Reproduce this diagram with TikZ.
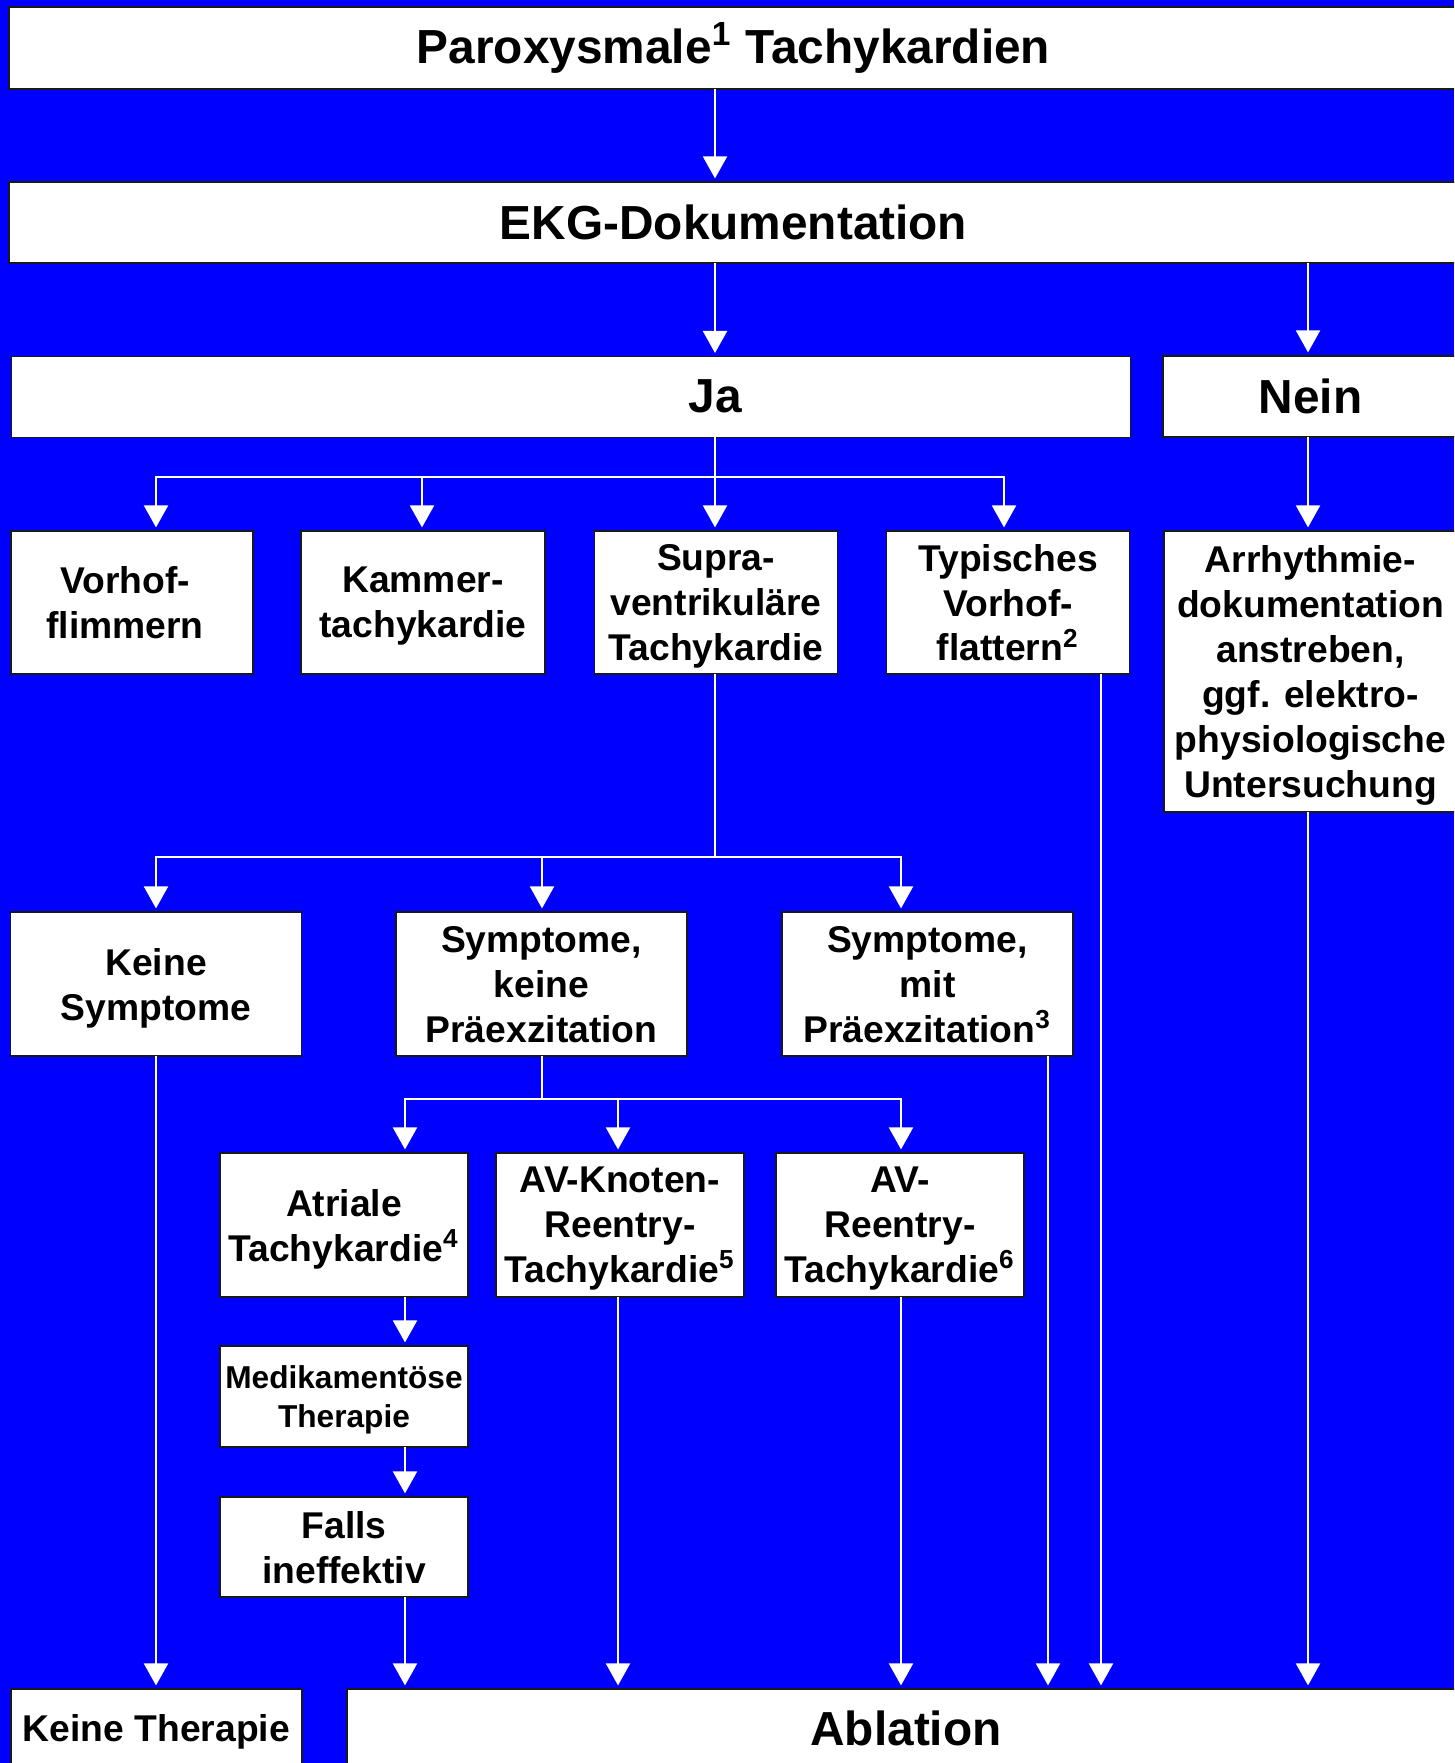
\documentclass[tikz,border=0pt]{standalone}
\usepackage{fontspec}
\setmainfont{Liberation Sans}
\usetikzlibrary{arrows.meta}
\definecolor{bgblue}{RGB}{0,0,255}
\tikzset{ bx/.style = { rectangle % box
        , draw = black!90
        , line width = 0.12mm
        , fill = white
        , align = center
        , inner sep = 0pt
        , text depth = 0pt
        , font = \bfseries\fontsize{10.6}{12.8}\selectfont
        }
        , hd/.style = { bx % wide heading box
        , text depth = {}
        , font = \bfseries\fontsize{13.6}{16}\selectfont
        }
        , sm/.style = { bx % small text
        , font = \bfseries\fontsize{9}{11.2}\selectfont
        }
        }

\begin{document}
\begin{tikzpicture}[x=0.1mm, y=-0.1mm,
        edge_style/.style={draw=white, line width=0.2mm, line cap=rect, -{Triangle[length=2.2mm,width=2.4mm]}, shorten >=0.3mm},
        line_style/.style={draw=white, line width=0.2mm, line cap=rect}]
        \useasboundingbox (0,0) rectangle (1454,1763);
        \clip (0,0) rectangle (1454,1763);
        \fill [bgblue] (0,0) rectangle (1454,1763);

        \node [hd, minimum width=144.9mm, minimum height=8.2mm] (title) at (733.5,48) {Paroxysmale\textsuperscript{1} Tachykardien};
        \node [hd, minimum width=144.9mm, minimum height=8.1mm] (ekg) at (733.5,222.5) {EKG-Dokumentation};
        \node [hd, minimum width=111.9mm, minimum height=8.1mm, anchor=north west] (ja) at (11,356) {};
        \node [font=\bfseries\fontsize{13.6}{16}\selectfont] (jatxt) at (715,396.5) {Ja};
        \node [hd, minimum width=29.5mm, minimum height=8.1mm] (nein) at (1310.5,396.5) {Nein};

        \node [bx, minimum width=24.2mm, minimum height=14.3mm] (vhf) at (132,602.5) {Vorhof-\hspace*{1.4mm}\\flimmern\hspace*{1.4mm}};
        \node [bx, minimum width=24.4mm, minimum height=14.3mm] (kam) at (423,602.5) {Kammer-\\tachykardie};
        \node [bx, minimum width=24.3mm, minimum height=14.3mm] (svt) at (716,602.5) {Supra-\\ventrikuläre\\Tachykardie};
        \node [bx, minimum width=24.3mm, minimum height=14.3mm] (typ) at (1008,602.5) {Typisches\\Vorhof-\\flattern\textsuperscript{2}};
        \node [bx, minimum width=29.3mm, minimum height=28.1mm] (arr) at (1310.5,671.5) {Arrhythmie-\\dokumentation\\anstreben,\\ggf. elektro-\\physiologische\\Untersuchung};

        \node [bx, minimum width=29.1mm, minimum height=14.4mm] (ks) at (156,984) {Keine\\Symptome};
        \node [bx, minimum width=29.1mm, minimum height=14.4mm] (skp) at (541.5,984) {Symptome,\\keine\\Präexzitation};
        \node [bx, minimum width=29.1mm, minimum height=14.4mm] (smp) at (927.5,984) {Symptome,\\mit\\Präexzitation\textsuperscript{3}};

        \node [bx, minimum width=24.8mm, minimum height=14.4mm] (at) at (344,1225) {Atriale\\Tachykardie\textsuperscript{4}};
        \node [bx, minimum width=24.8mm, minimum height=14.4mm] (avnrt) at (620,1225) {AV-Knoten-\\Reentry-\\Tachykardie\textsuperscript{5}};
        \node [bx, minimum width=24.8mm, minimum height=14.4mm] (avrt) at (900,1225) {AV-\\Reentry-\\Tachykardie\textsuperscript{6}};
        \node [sm, minimum width=24.8mm, minimum height=10.1mm] (medi) at (344,1396.5) {Medikamentöse\\Therapie};
        \node [bx, minimum width=24.8mm, minimum height=10mm] (falls) at (344,1547) {Falls\\ineffektiv};

        \node [bx, minimum width=29.1mm, minimum height=7.8mm] (kt) at (156.5,1728) {Keine Therapie};
        \node [hd, minimum width=111.8mm, minimum height=7.8mm] (abl) at (906,1728) {Ablation};

        % columns and buses
        \coordinate (col1) at (156,0);
        \coordinate (col2) at (422,0);
        \coordinate (col3) at (715,0);
        \coordinate (col4) at (1004,0);
        \coordinate (col5) at (1101,0);
        \coordinate (col6) at (1308,0);
        \coordinate (col7) at (542,0);
        \coordinate (col8) at (901,0);
        \coordinate (col9) at (1048,0);
        \coordinate (col10) at (405,0);
        \coordinate (col11) at (618,0);
        \coordinate (bus1) at (0,477);
        \coordinate (bus2) at (0,857);
        \coordinate (bus3) at (0,1099);

        \draw [edge_style] (col3 |- title.south) -- (col3 |- ekg.north);
        \draw [edge_style] (col3 |- ekg.south) -- (col3 |- ja.north);
        \draw [edge_style] (col6 |- ekg.south) -- (col6 |- nein.north);
        \draw [edge_style] (col6 |- nein.south) -- (col6 |- arr.north);

        \draw [line_style] (col3 |- ja.south) -- (col3 |- bus1);
        \draw [line_style] (col1 |- bus1) -- (col4 |- bus1);
        \foreach \c/\n in {col1/vhf, col2/kam, col3/svt, col4/typ}
            \draw [edge_style] (\c |- bus1) -- (\c |- \n.north);

        \draw [line_style] (col3 |- svt.south) -- (col3 |- bus2);
        \draw [line_style] (col1 |- bus2) -- (col8 |- bus2);
        \foreach \c/\n in {col1/ks, col7/skp, col8/smp}
            \draw [edge_style] (\c |- bus2) -- (\c |- \n.north);

        \draw [line_style] (col7 |- skp.south) -- (col7 |- bus3);
        \draw [line_style] (col10 |- bus3) -- (col8 |- bus3);
        \foreach \c/\n in {col10/at, col11/avnrt, col8/avrt}
            \draw [edge_style] (\c |- bus3) -- (\c |- \n.north);

        \draw [edge_style] (col10 |- at.south) -- (col10 |- medi.north);
        \draw [edge_style] (col10 |- medi.south) -- (col10 |- falls.north);
        \draw [edge_style] (col1 |- ks.south) -- (col1 |- kt.north);
        \foreach \c/\n in {col10/falls, col11/avnrt, col8/avrt, col9/smp, col5/typ, col6/arr}
            \draw [edge_style] (\c |- \n.south) -- (\c |- abl.north);
\end{tikzpicture}
\end{document}
